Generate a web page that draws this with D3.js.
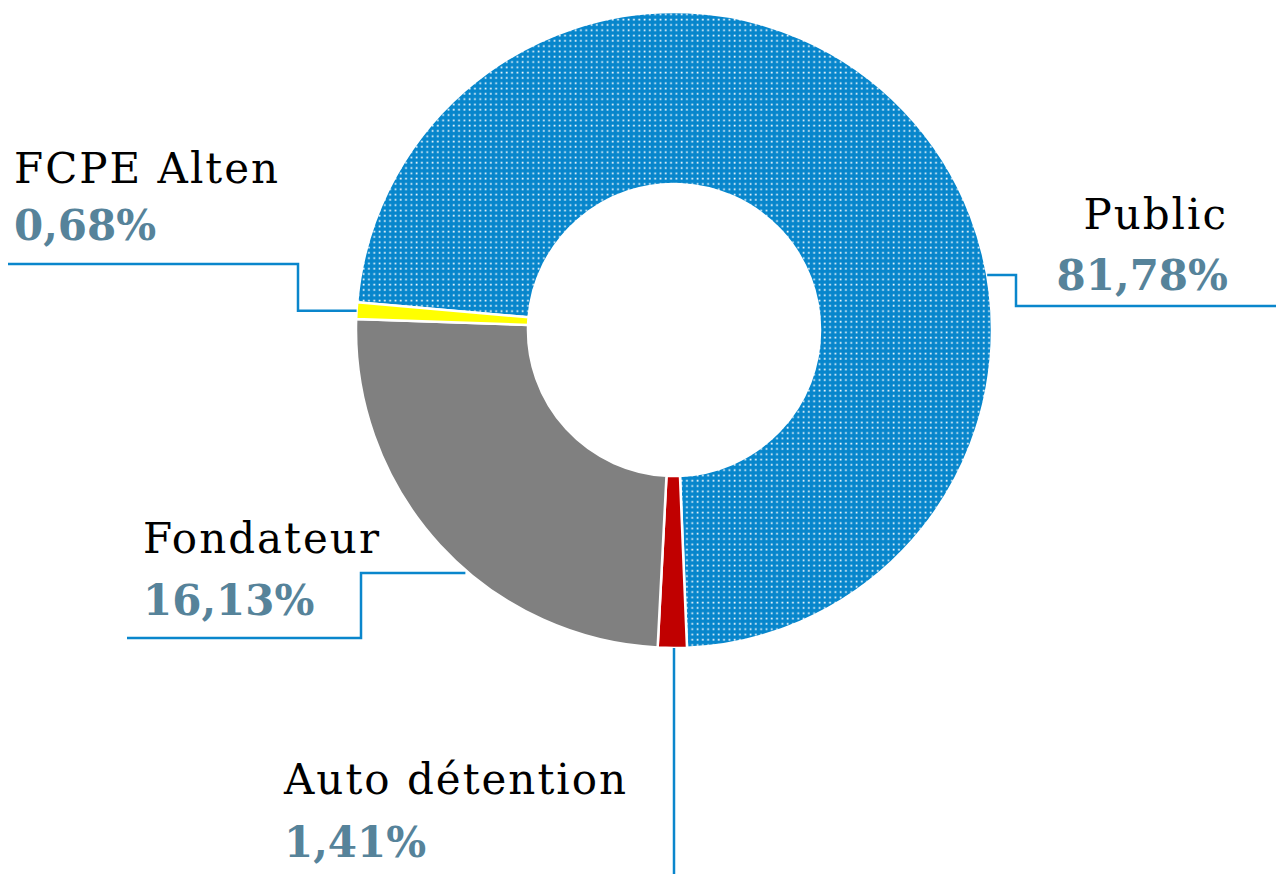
<!DOCTYPE html>
<html>
<head>
<meta charset="utf-8">
<script src="https://cdn.jsdelivr.net/npm/d3@7"></script>
<style>
  body { margin: 0; background: #fff; }
  svg { display: block; }
</style>
</head>
<body>
<svg id="chart"></svg>
<script>
// donut chart - repartition du capital

var categories = ['Public', 'Auto détention', 'Fondateur', 'FCPE Alten']
// slice sizes as drawn in the picture (angles)
var values = [72.96, 1.47, 24.73, 0.84]
// percentages printed on the labels
var pctLabels = ['81,78%', '1,41%', '16,13%', '0,68%']
var colors = ['#0786cc', '#c00000', '#808080', '#ffff00']

var width = 1276, height = 874
var cx = 674, cy = 330, outerR = 318, innerR = 146

var svg = d3.select('#chart')
    .attr('width', width)
    .attr('height', height)

// dotted texture for the big slice
var defs = svg.append('defs')
var pat = defs.append('pattern')
    .attr('id', 'dots')
    .attr('patternUnits', 'userSpaceOnUse')
    .attr('width', 5.3)
    .attr('height', 5.3)
pat.append('rect')
    .attr('width', 5.3).attr('height', 5.3)
    .attr('fill', colors[0])
pat.append('rect')
    .attr('x', 1.5).attr('y', 1.5)
    .attr('width', 1.7).attr('height', 1.7)
    .attr('fill', '#f4fafd')

var start = 275 * Math.PI / 180
var pie = d3.pie()
    .sort(null)
    .value(d => d)
    .startAngle(start)
    .endAngle(start + 2 * Math.PI)

var arcs = pie(values)

var arc = d3.arc()
    .innerRadius(innerR)
    .outerRadius(outerR)

var g = svg.append('g')
    .attr('transform', 'translate(' + cx + ',' + cy + ')')

g.selectAll('path')
    .data(arcs)
    .enter()
    .append('path')
    .attr('d', arc)
    .attr('fill', (d, i) => i == 0 ? 'url(#dots)' : colors[i])
    .attr('stroke', '#fff')
    .attr('stroke-width', 2.5)

// label layout: angle (deg) where the leader line leaves the ring, then elbows
var layout = [
    { angle: 80, pts: [[1016, 275], [1016, 306], [1276, 306]], tx: 1228, anchor: 'end', ny: 229, py: 290 },
    { angle: null, pts: [[674, 874]], tx: 284, anchor: 'start', ny: 794, py: 857 },
    { angle: 221, pts: [[361, 573], [361, 638], [127, 638]], tx: 143, anchor: 'start', ny: 553, py: 615 },
    { angle: null, pts: [[298, 313], [298, 264], [8, 264]], tx: 14, anchor: 'start', ny: 183, py: 240 }
]

function ringPoint(a, r) {
    return [cx + r * Math.sin(a), cy - r * Math.cos(a)]
}

var line = d3.line()

layout.forEach(function(l, i) {
    var a = l.angle != null ? l.angle * Math.PI / 180 : (arcs[i].startAngle + arcs[i].endAngle) / 2
    var p0 = ringPoint(a, outerR)
    var pts = l.pts.slice()
    // keep the first segment straight
    if (i == 1) p0 = [pts[0][0], p0[1]]
    if (i == 3) pts[0] = [pts[0][0], p0[1]]
    if (i == 0) p0 = [p0[0], pts[0][1]]
    if (i == 2) p0 = [p0[0], pts[0][1]]
    svg.append('path')
        .attr('d', line([p0].concat(pts)))
        .attr('fill', 'none')
        .attr('stroke', '#0a86cc')
        .attr('stroke-width', 2.5)
})

var labels = svg.selectAll('.label')
    .data(categories)
    .enter()
    .append('g')
    .attr('class', 'label')

labels.append('text')
    .attr('x', (d, i) => layout[i].tx)
    .attr('y', (d, i) => layout[i].ny)
    .attr('text-anchor', (d, i) => layout[i].anchor)
    .style('font-family', '"DejaVu Serif", serif')
    .style('font-size', '42px')
    .style('letter-spacing', '2px')
    .attr('fill', '#000')
    .text(d => d)

labels.append('text')
    .attr('x', (d, i) => layout[i].tx)
    .attr('y', (d, i) => layout[i].py)
    .attr('text-anchor', (d, i) => layout[i].anchor)
    .style('font-family', '"DejaVu Serif", serif')
    .style('font-weight', 'bold')
    .style('font-size', '42px')
    .attr('fill', '#56839a')
    .text((d, i) => pctLabels[i])
</script>
</body>
</html>
